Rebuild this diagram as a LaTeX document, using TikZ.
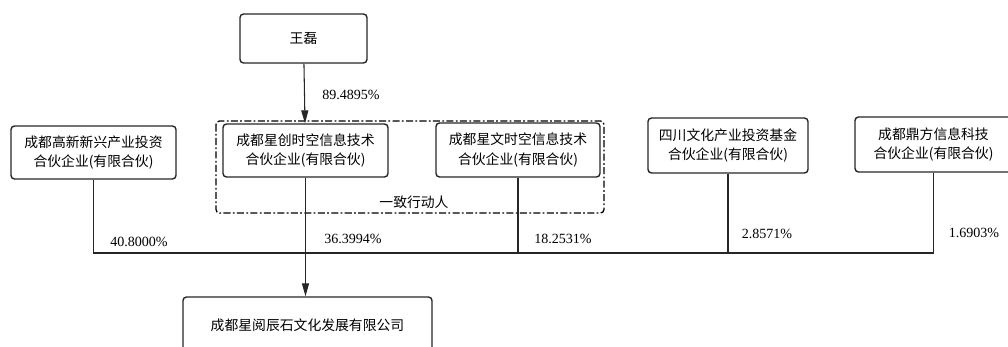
\documentclass[tikz,border=0pt]{standalone}
\usepackage{fontspec}
\setmainfont{Liberation Serif}
\newfontfamily\cjk{Noto Sans CJK SC}
\usetikzlibrary{arrows.meta,calc}

\tikzset{
  holder/.style={draw=black!85,line width=1.2pt,rounded corners=3pt,align=center,
    inner sep=0pt,font=\cjk\fontsize{11.8}{17}\selectfont},
  share/.style={font=\fontsize{12}{14}\selectfont,inner sep=1pt},
  link/.style={draw=black!85,line width=0.9pt},
  hold/.style={link,-{Triangle[length=11pt,width=6pt]}}
}

\begin{document}
\begin{tikzpicture}[x=0.03cm,y=-0.03cm]
    \useasboundingbox (0,0) rectangle (1008,347);

    % shareholders
    \node[holder,minimum width=127*0.03cm,minimum height=49*0.03cm] (wanglei) at (303.5,38.5) {王磊};
    \node[holder,minimum width=165*0.03cm,minimum height=53*0.03cm] (gaoxin) at (93.5,152.5) {成都高新新兴产业投资\\合伙企业(有限合伙)};
    \node[holder,minimum width=165*0.03cm,minimum height=53*0.03cm] (xingchuang) at (305.5,150.5) {成都星创时空信息技术\\合伙企业(有限合伙)};
    \node[holder,minimum width=164*0.03cm,minimum height=54*0.03cm] (xingwen) at (518,150) {成都星文时空信息技术\\合伙企业(有限合伙)};
    \node[holder,minimum width=160*0.03cm,minimum height=55*0.03cm] (sichuan) at (728,145.5) {四川文化产业投资基金\\合伙企业(有限合伙)};
    \node[holder,minimum width=157*0.03cm,minimum height=55*0.03cm] (dingfang) at (933.5,144.5) {成都鼎方信息科技\\合伙企业(有限合伙)};

    % company
    \node[holder,minimum width=249*0.03cm,minimum height=56*0.03cm] (target) at (307.5,325) {成都星阅辰石文化发展有限公司};

    % concert parties
    \draw[line width=1.1pt,rounded corners=3pt,dash pattern=on 6pt off 2pt on 1.5pt off 2pt]
      (216,121) rectangle (604,213);
    \node[font=\cjk\fontsize{11.8}{13}\selectfont] (concert) at (414,202) {一致行动人};

    % links
    \coordinate (bus) at (0,253);
    \draw[hold] (wanglei) -- (xingchuang);
    \draw[link] (gaoxin.south) -- (gaoxin.south |- bus) -- (dingfang.south |- bus) -- (dingfang.south);
    \draw[link] (xingwen.south) -- (xingwen.south |- bus);
    \draw[link] (sichuan.south) -- (sichuan.south |- bus);
    \draw[hold] (xingchuang.south) -- (xingchuang.south |- target.north);

    % percentages
    \node[share] (p1) at (351,95) {89.4895\%};
    \node[share] (p2) at (139,242) {40.8000\%};
    \node[share] (p3) at (353,239) {36.3994\%};
    \node[share] (p4) at (563,239) {18.2531\%};
    \node[share] (p5) at (767,234) {2.8571\%};
    \node[share] (p6) at (974,233) {1.6903\%};
\end{tikzpicture}
\end{document}
